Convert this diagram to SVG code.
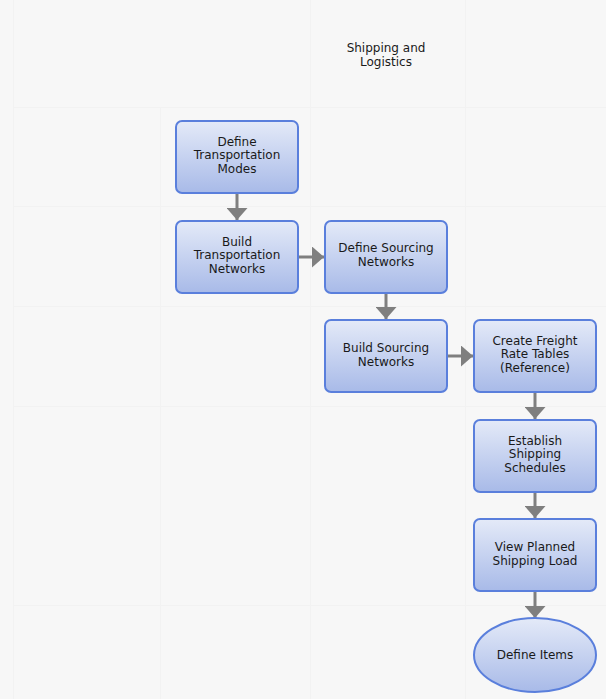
<svg xmlns="http://www.w3.org/2000/svg" width="606" height="699" viewBox="0 0 606 699">
<defs>
<linearGradient id="g" x1="0" y1="0" x2="0" y2="1">
<stop offset="0" stop-color="#e4eaf8"/>
<stop offset="1" stop-color="#a8bae8"/>
</linearGradient>
<marker id="ah" markerWidth="4" markerHeight="7" refX="4" refY="3.5" orient="auto" markerUnits="strokeWidth" viewBox="0 0 4 7">
<path d="M0,0 L4,3.5 L0,7 Z" fill="#7f7f7f"/>
</marker>
<style>
.n{fill:url(#g);stroke:#5a7fdc;stroke-width:2}
.t{font-family:"DejaVu Sans",Verdana,sans-serif;font-size:12px;fill:#1a1a1a;text-anchor:middle}
.c{stroke:#7f7f7f;stroke-width:3;fill:none;marker-end:url(#ah)}
.grid{stroke:#f2f2f2;stroke-width:1;fill:none}
</style>
</defs>
<rect width="606" height="699" fill="#f7f7f7"/>
<g id="grid">
<path class="grid" d="M13.5,0V699 M13,107.5H606 M13,206.5H606 M13,306.5H606 M13,406.5H606 M13,605.5H606 M160.5,107V699 M310.5,0V699 M465.5,0V699"/>
</g>
<g id="title"><text class="t" x="386" y="52">Shipping and</text><text class="t" x="386" y="66">Logistics</text></g>
<g id="connectors">
<path class="c" d="M237,194V220"/>
<path class="c" d="M299,257H324"/>
<path class="c" d="M386,294V319"/>
<path class="c" d="M448,356H473"/>
<path class="c" d="M535,393V419"/>
<path class="c" d="M535,493V518"/>
<path class="c" d="M535,592V618"/>
</g>
<g id="n1"><rect class="n" x="176" y="121" width="122" height="72" rx="6"/><text class="t" x="237" y="145.5">Define</text><text class="t" x="237" y="159">Transportation</text><text class="t" x="237" y="172.5">Modes</text></g>
<g id="n2"><rect class="n" x="176" y="221" width="122" height="72" rx="6"/><text class="t" x="237" y="245.5">Build</text><text class="t" x="237" y="259">Transportation</text><text class="t" x="237" y="272.5">Networks</text></g>
<g id="n3"><rect class="n" x="325" y="221" width="122" height="72" rx="6"/><text class="t" x="386" y="252">Define Sourcing</text><text class="t" x="386" y="266">Networks</text></g>
<g id="n4"><rect class="n" x="325" y="320" width="122" height="72" rx="6"/><text class="t" x="386" y="352">Build Sourcing</text><text class="t" x="386" y="366">Networks</text></g>
<g id="n5"><rect class="n" x="474" y="320" width="122" height="72" rx="6"/><text class="t" x="535" y="344.5">Create Freight</text><text class="t" x="535" y="358">Rate Tables</text><text class="t" x="535" y="371.5">(Reference)</text></g>
<g id="n6"><rect class="n" x="474" y="420" width="122" height="72" rx="6"/><text class="t" x="535" y="444.5">Establish</text><text class="t" x="535" y="458">Shipping</text><text class="t" x="535" y="471.5">Schedules</text></g>
<g id="n7"><rect class="n" x="474" y="519" width="122" height="72" rx="6"/><text class="t" x="535" y="551">View Planned</text><text class="t" x="535" y="565">Shipping Load</text></g>
<g id="n8"><ellipse class="n" cx="535" cy="655" rx="61" ry="37"/><text class="t" x="535" y="659">Define Items</text></g>
</svg>
